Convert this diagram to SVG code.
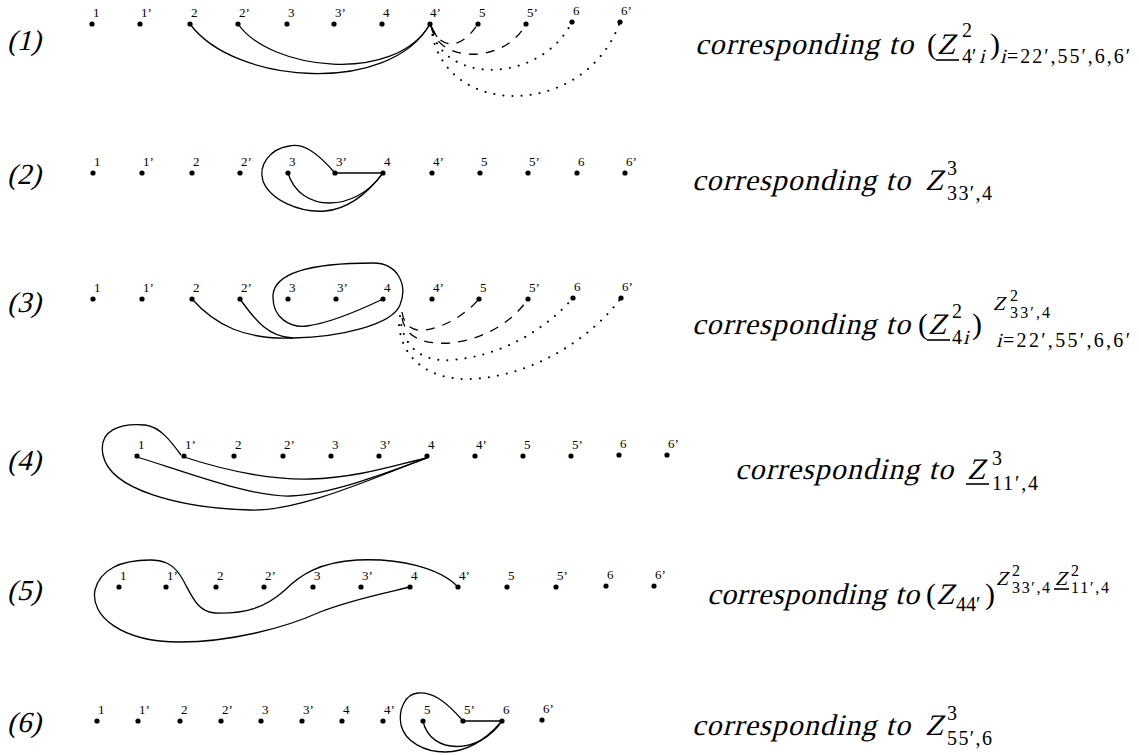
<svg xmlns="http://www.w3.org/2000/svg" width="1139" height="755" viewBox="0 0 1139 755">
<style>
.bg{fill:#fff}
circle{fill:#000}
text{font-family:"Liberation Serif","DejaVu Serif",serif;fill:#000}
.l{font-size:13px}
.rl{font-size:29px}
.m{font-size:30px}
.s{font-size:20px}
.ss{font-size:16px}
.c{fill:none;stroke:#000;stroke-width:1.3}
.d{stroke-dasharray:9 8}
.o{stroke-dasharray:0.1 9;stroke-linecap:round;stroke-width:2}
.u{stroke:#000;stroke-width:1.6}
</style>
<rect class="bg" width="1139" height="755"/>

<!-- row labels (italic emulated by skew) -->
<g id="row-labels">
<text class="rl" transform="translate(7,50) skewX(-14)">(1)</text>
<text class="rl" transform="translate(7,184) skewX(-14)">(2)</text>
<text class="rl" transform="translate(7,312) skewX(-14)">(3)</text>
<text class="rl" transform="translate(7,470) skewX(-14)">(4)</text>
<text class="rl" transform="translate(7,600) skewX(-14)">(5)</text>
<text class="rl" transform="translate(7,732) skewX(-14)">(6)</text>
</g>

<!-- row 1 nodes -->
<g id="r1-1"><circle cx="92" cy="24" r="2.6"/><text class="l" x="93" y="17">1</text></g>
<g id="r1-1p"><circle cx="140" cy="24" r="2.6"/><text class="l" x="141" y="17">1’</text></g>
<g id="r1-2"><circle cx="190" cy="24" r="2.6"/><text class="l" x="191" y="17">2</text></g>
<g id="r1-2p"><circle cx="238" cy="24" r="2.6"/><text class="l" x="239" y="17">2’</text></g>
<g id="r1-3"><circle cx="287" cy="24" r="2.6"/><text class="l" x="288" y="17">3</text></g>
<g id="r1-3p"><circle cx="334" cy="24" r="2.6"/><text class="l" x="335" y="17">3’</text></g>
<g id="r1-4"><circle cx="382" cy="24" r="2.6"/><text class="l" x="383" y="17">4</text></g>
<g id="r1-4p"><circle cx="430" cy="24" r="2.6"/><text class="l" x="430" y="17">4’</text></g>
<g id="r1-5"><circle cx="478" cy="24" r="2.6"/><text class="l" x="479" y="17">5</text></g>
<g id="r1-5p"><circle cx="526" cy="24" r="2.6"/><text class="l" x="527" y="17">5’</text></g>
<g id="r1-6"><circle cx="572" cy="22" r="2.6"/><text class="l" x="573" y="15">6</text></g>
<g id="r1-6p"><circle cx="620" cy="22" r="2.6"/><text class="l" x="621" y="15">6’</text></g>

<!-- row 2 nodes -->
<g id="r2-1"><circle cx="93" cy="173" r="2.6"/><text class="l" x="94" y="166">1</text></g>
<g id="r2-1p"><circle cx="142" cy="173" r="2.6"/><text class="l" x="143" y="166">1’</text></g>
<g id="r2-2"><circle cx="192" cy="173" r="2.6"/><text class="l" x="193" y="166">2</text></g>
<g id="r2-2p"><circle cx="240" cy="173" r="2.6"/><text class="l" x="241" y="166">2’</text></g>
<g id="r2-3"><circle cx="288" cy="173" r="2.6"/><text class="l" x="289" y="166">3</text></g>
<g id="r2-3p"><circle cx="335" cy="173" r="2.6"/><text class="l" x="336" y="166">3’</text></g>
<g id="r2-4"><circle cx="383" cy="173" r="2.6"/><text class="l" x="384" y="166">4</text></g>
<g id="r2-4p"><circle cx="432" cy="173" r="2.6"/><text class="l" x="433" y="166">4’</text></g>
<g id="r2-5"><circle cx="480" cy="173" r="2.6"/><text class="l" x="481" y="166">5</text></g>
<g id="r2-5p"><circle cx="528" cy="173" r="2.6"/><text class="l" x="529" y="166">5’</text></g>
<g id="r2-6"><circle cx="577" cy="173" r="2.6"/><text class="l" x="578" y="166">6</text></g>
<g id="r2-6p"><circle cx="625" cy="173" r="2.6"/><text class="l" x="626" y="166">6’</text></g>

<!-- row 3 nodes -->
<g id="r3-1"><circle cx="93" cy="299" r="2.6"/><text class="l" x="94" y="292">1</text></g>
<g id="r3-1p"><circle cx="142" cy="299" r="2.6"/><text class="l" x="143" y="292">1’</text></g>
<g id="r3-2"><circle cx="192" cy="299" r="2.6"/><text class="l" x="193" y="292">2</text></g>
<g id="r3-2p"><circle cx="240" cy="299" r="2.6"/><text class="l" x="241" y="292">2’</text></g>
<g id="r3-3"><circle cx="288" cy="299" r="2.6"/><text class="l" x="289" y="292">3</text></g>
<g id="r3-3p"><circle cx="336" cy="299" r="2.6"/><text class="l" x="337" y="292">3’</text></g>
<g id="r3-4"><circle cx="383" cy="299" r="2.6"/><text class="l" x="384" y="292">4</text></g>
<g id="r3-4p"><circle cx="432" cy="299" r="2.6"/><text class="l" x="433" y="292">4’</text></g>
<g id="r3-5"><circle cx="479" cy="299" r="2.6"/><text class="l" x="480" y="292">5</text></g>
<g id="r3-5p"><circle cx="528" cy="299" r="2.6"/><text class="l" x="529" y="292">5’</text></g>
<g id="r3-6"><circle cx="573" cy="298" r="2.6"/><text class="l" x="574" y="291">6</text></g>
<g id="r3-6p"><circle cx="621" cy="298" r="2.6"/><text class="l" x="622" y="291">6’</text></g>

<!-- row 4 nodes -->
<g id="r4-1"><circle cx="137" cy="456" r="2.6"/><text class="l" x="138" y="449">1</text></g>
<g id="r4-1p"><circle cx="184" cy="456" r="2.6"/><text class="l" x="185" y="449">1’</text></g>
<g id="r4-2"><circle cx="234" cy="456" r="2.6"/><text class="l" x="235" y="449">2</text></g>
<g id="r4-2p"><circle cx="283" cy="456" r="2.6"/><text class="l" x="284" y="449">2’</text></g>
<g id="r4-3"><circle cx="331" cy="456" r="2.6"/><text class="l" x="332" y="449">3</text></g>
<g id="r4-3p"><circle cx="379" cy="456" r="2.6"/><text class="l" x="380" y="449">3’</text></g>
<g id="r4-4"><circle cx="427" cy="456" r="2.6"/><text class="l" x="428" y="449">4</text></g>
<g id="r4-4p"><circle cx="475" cy="456" r="2.6"/><text class="l" x="476" y="449">4’</text></g>
<g id="r4-5"><circle cx="523" cy="456" r="2.6"/><text class="l" x="524" y="449">5</text></g>
<g id="r4-5p"><circle cx="571" cy="456" r="2.6"/><text class="l" x="572" y="449">5’</text></g>
<g id="r4-6"><circle cx="619" cy="455" r="2.6"/><text class="l" x="620" y="448">6</text></g>
<g id="r4-6p"><circle cx="667" cy="455" r="2.6"/><text class="l" x="668" y="448">6’</text></g>

<!-- row 5 nodes -->
<g id="r5-1"><circle cx="119" cy="587" r="2.6"/><text class="l" x="120" y="580">1</text></g>
<g id="r5-1p"><circle cx="166" cy="587" r="2.6"/><text class="l" x="167" y="580">1’</text></g>
<g id="r5-2"><circle cx="216" cy="587" r="2.6"/><text class="l" x="217" y="580">2</text></g>
<g id="r5-2p"><circle cx="264" cy="587" r="2.6"/><text class="l" x="265" y="580">2’</text></g>
<g id="r5-3"><circle cx="313" cy="587" r="2.6"/><text class="l" x="314" y="580">3</text></g>
<g id="r5-3p"><circle cx="361" cy="587" r="2.6"/><text class="l" x="362" y="580">3’</text></g>
<g id="r5-4"><circle cx="410" cy="587" r="2.6"/><text class="l" x="411" y="580">4</text></g>
<g id="r5-4p"><circle cx="458" cy="587" r="2.6"/><text class="l" x="459" y="580">4’</text></g>
<g id="r5-5"><circle cx="507" cy="587" r="2.6"/><text class="l" x="508" y="580">5</text></g>
<g id="r5-5p"><circle cx="556" cy="587" r="2.6"/><text class="l" x="557" y="580">5’</text></g>
<g id="r5-6"><circle cx="606" cy="586" r="2.6"/><text class="l" x="607" y="579">6</text></g>
<g id="r5-6p"><circle cx="654" cy="586" r="2.6"/><text class="l" x="655" y="579">6’</text></g>

<!-- row 6 nodes -->
<g id="r6-1"><circle cx="97" cy="721" r="2.6"/><text class="l" x="98" y="714">1</text></g>
<g id="r6-1p"><circle cx="138" cy="721" r="2.6"/><text class="l" x="139" y="714">1’</text></g>
<g id="r6-2"><circle cx="180" cy="721" r="2.6"/><text class="l" x="181" y="714">2</text></g>
<g id="r6-2p"><circle cx="221" cy="721" r="2.6"/><text class="l" x="222" y="714">2’</text></g>
<g id="r6-3"><circle cx="261" cy="721" r="2.6"/><text class="l" x="262" y="714">3</text></g>
<g id="r6-3p"><circle cx="302" cy="721" r="2.6"/><text class="l" x="303" y="714">3’</text></g>
<g id="r6-4"><circle cx="342" cy="721" r="2.6"/><text class="l" x="343" y="714">4</text></g>
<g id="r6-4p"><circle cx="383" cy="721" r="2.6"/><text class="l" x="384" y="714">4’</text></g>
<g id="r6-5"><circle cx="423" cy="721" r="2.6"/><text class="l" x="424" y="714">5</text></g>
<g id="r6-5p"><circle cx="463" cy="721" r="2.6"/><text class="l" x="464" y="714">5’</text></g>
<g id="r6-6"><circle cx="502" cy="721" r="2.6"/><text class="l" x="503" y="714">6</text></g>
<g id="r6-6p"><circle cx="542" cy="720" r="2.6"/><text class="l" x="543" y="713">6’</text></g>

<!-- connectors -->
<g id="connectors">
<!-- row 1 -->
<path class="c" d="M190,24 C235,85 390,95 430,24"/>
<path class="c" d="M238,24 C270,70 395,85 430,24"/>
<path class="c" d="M430,24 L437,37"/>
<path class="c d" d="M431,26 C438,46 458,54 478,24"/>
<path class="c d" d="M431,26 C438,64 505,64 526,24"/>
<path class="c o" d="M431,26 C440,85 540,85 572,22"/>
<path class="c o" d="M431,26 C440,120 585,120 620,22"/>
<!-- row 2 -->
<path class="c" d="M335,173 L383,173"/>
<path class="c" d="M335,173 C315,150 302,143 289,146 C270,149 258,165 263,181 C270,200 300,213 325,211 C350,209 370,190 383,173"/>
<path class="c" d="M288,173 C300,213 355,213 383,173"/>
<!-- row 3 -->
<path class="c" d="M192,299 C215,325 245,340 293,338 C340,337 392,325 400,305 C408,285 398,263 373,263 C320,263 275,270 273,295 C272,318 290,328 307,326 C330,323 360,310 383,299"/>
<path class="c" d="M240,299 C255,320 268,337 293,338"/>
<path class="c d" d="M402,312 C404,325 412,332 425,330 C445,327 465,315 479,299"/>
<path class="c d" d="M402,318 C405,335 420,345 450,343 C480,340 510,325 528,299"/>
<path class="c o" d="M400,316 C402,345 420,362 450,360 C500,357 545,330 573,298"/>
<path class="c o" d="M399,325 C402,360 430,380 470,379 C530,377 590,340 621,298"/>
<!-- row 4 -->
<path class="c" d="M137,457 C180,470 250,497 290,496 C330,495 395,470 427,458"/>
<path class="c" d="M184,457 C230,472 270,480 310,479 C360,478 405,462 427,458"/>
<path class="c" d="M427,458 C380,475 300,512 250,510 C180,508 110,490 103,455 C98,430 120,423 145,425 C160,427 170,440 181,455"/>
<!-- row 5 -->
<path class="c" d="M458,587 C440,568 400,558 357,560 C320,562 300,575 285,590 C265,608 245,614 215,613 C195,612 190,590 180,575 C172,563 162,560 150,560 C120,560 100,570 95,590 C90,615 120,642 180,642 C230,642 285,628 320,612 C350,600 385,593 410,587"/>
<!-- row 6 -->
<path class="c" d="M463,721 L502,721"/>
<path class="c" d="M463,721 C445,700 432,692 418,693 C405,694 398,710 401,725 C405,742 425,752 445,752 C470,752 490,735 502,721"/>
<path class="c" d="M423,721 C430,755 480,755 502,721"/>
</g>

<!-- formulas -->
<g id="formula-1">
<text class="m" transform="translate(695,54) skewX(-14)" textLength="218" lengthAdjust="spacing">corresponding to</text>
<text class="m" x="927" y="54">(</text>
<text class="m" transform="translate(937,54) skewX(-14)">Z</text>
<line class="u" x1="936" y1="60" x2="959" y2="60"/>
<text class="s" x="962" y="37">2</text>
<text class="s" x="962" y="63">4′</text>
<text class="s" transform="translate(979,63) skewX(-14)">i</text>
<text class="m" x="990" y="54">)</text>
<text class="s" transform="translate(1000,63) skewX(-14)">i</text>
<text class="s" x="1007" y="63" textLength="123" lengthAdjust="spacing">=22′,55′,6,6′</text>
</g>
<g id="formula-2">
<text class="m" transform="translate(692,190) skewX(-14)" textLength="218" lengthAdjust="spacing">corresponding to</text>
<text class="m" transform="translate(925,190) skewX(-14)">Z</text>
<text class="s" x="947" y="175">3</text>
<text class="s" x="947" y="200" textLength="45" lengthAdjust="spacing">33′,4</text>
</g>
<g id="formula-3">
<text class="m" transform="translate(692,334) skewX(-14)" textLength="218" lengthAdjust="spacing">corresponding to</text>
<text class="m" x="918" y="334">(</text>
<text class="m" transform="translate(928,334) skewX(-14)">Z</text>
<line class="u" x1="927" y1="340" x2="950" y2="340"/>
<text class="s" x="952" y="318">2</text>
<text class="s" x="952" y="344">4</text>
<text class="s" transform="translate(963,344) skewX(-14)">i</text>
<text class="m" x="972" y="334">)</text>
<text class="s" transform="translate(993,310) skewX(-14)">Z</text>
<text class="ss" x="1010" y="301">2</text>
<text class="ss" x="1010" y="318" textLength="40" lengthAdjust="spacing">33′,4</text>
<text class="s" transform="translate(996,347) skewX(-14)">i</text>
<text class="s" x="1003" y="347" textLength="127" lengthAdjust="spacing">=22′,55′,6,6′</text>
</g>
<g id="formula-4">
<text class="m" transform="translate(735,479) skewX(-14)" textLength="218" lengthAdjust="spacing">corresponding to</text>
<text class="m" transform="translate(967,479) skewX(-14)">Z</text>
<line class="u" x1="966" y1="484" x2="989" y2="484"/>
<text class="s" x="992" y="465">3</text>
<text class="s" x="992" y="490" textLength="46" lengthAdjust="spacing">11′,4</text>
</g>
<g id="formula-5">
<text class="m" transform="translate(707,604) skewX(-14)" textLength="212" lengthAdjust="spacing">corresponding to</text>
<text class="m" x="926" y="604">(</text>
<text class="m" transform="translate(936,604) skewX(-14)">Z</text>
<text class="s" x="956" y="611">44′</text>
<text class="m" x="985" y="604">)</text>
<text class="s" transform="translate(996,585) skewX(-14)">Z</text>
<text class="ss" x="1012" y="576">2</text>
<text class="ss" x="1012" y="593" textLength="38" lengthAdjust="spacing">33′,4</text>
<text class="s" transform="translate(1055,585) skewX(-14)">Z</text>
<line class="u" x1="1054" y1="589" x2="1069" y2="589"/>
<text class="ss" x="1071" y="576">2</text>
<text class="ss" x="1071" y="593" textLength="38" lengthAdjust="spacing">11′,4</text>
</g>
<g id="formula-6">
<text class="m" transform="translate(692,735) skewX(-14)" textLength="218" lengthAdjust="spacing">corresponding to</text>
<text class="m" transform="translate(925,735) skewX(-14)">Z</text>
<text class="s" x="947" y="720">3</text>
<text class="s" x="947" y="745" textLength="45" lengthAdjust="spacing">55′,6</text>
</g>
</svg>
